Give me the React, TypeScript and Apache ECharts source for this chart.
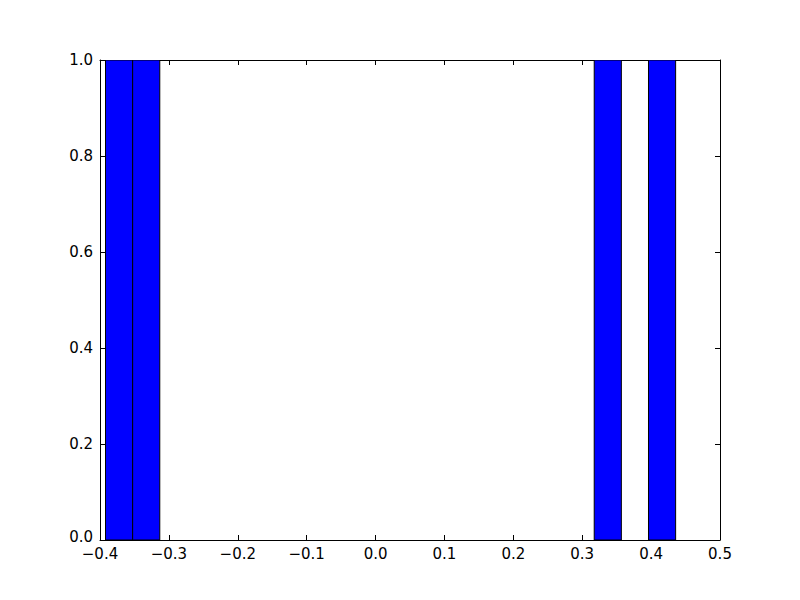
import React, { useEffect, useRef } from "react";
import * as echarts from "echarts";

// Histogram bins (data units) and counts
const binStarts = [-0.3920, -0.3526, 0.3174, 0.3962];
const binEnds = [-0.3526, -0.3132, 0.3568, 0.4356];
const counts = [1, 1, 1, 1];

const xTicks = { min: -0.4, max: 0.5, interval: 0.1 };
const yTicks = { min: 0, max: 1, interval: 0.2 };

const fmt = (v: number) => v.toFixed(1).replace("-", "\u2212");

export default function App() {
  const ref = useRef<HTMLDivElement>(null);
  useEffect(() => {
    if (!ref.current) return;
    const chart = echarts.init(ref.current, null, { renderer: "svg" });
    const data = binStarts.map((s, i) => [s, binEnds[i], counts[i]]);
    const font = { fontFamily: "DejaVu Sans", fontSize: 15, lineHeight: 12, color: "#000" };
    const tick = { show: true, inside: true, length: 5, lineStyle: { color: "#000", width: 1 } };
    const line = { show: true, onZero: false, lineStyle: { color: "#000", width: 1 } };
    chart.setOption({
      animation: false,
      backgroundColor: "#fff",
      grid: { left: 100, right: 80, top: 60, bottom: 60, containLabel: false },
      xAxis: [
        {
          type: "value", ...xTicks, position: "bottom",
          axisLine: line, axisTick: tick,
          axisLabel: { ...font, margin: 8, formatter: fmt },
          splitLine: { show: false },
        },
        {
          type: "value", ...xTicks, position: "top",
          axisLine: line, axisTick: tick,
          axisLabel: { show: false },
          splitLine: { show: false },
        },
      ],
      yAxis: [
        {
          type: "value", ...yTicks, position: "left",
          axisLine: line, axisTick: tick,
          axisLabel: {
            ...font, margin: 7,
            formatter: (v: number) => (v === yTicks.min ? `{low|${fmt(v)}}` : fmt(v)),
            rich: { low: { fontFamily: "DejaVu Sans", fontSize: 15, lineHeight: 12, color: "#000", padding: [0, 0, 6, 0] } },
          },
          splitLine: { show: false },
        },
        {
          type: "value", ...yTicks, position: "right",
          axisLine: line, axisTick: tick,
          axisLabel: { show: false },
          splitLine: { show: false },
        },
      ],
      series: [
        {
          type: "custom",
          xAxisIndex: 0,
          yAxisIndex: 0,
          data,
          clip: true,
          renderItem: (params: any, api: any) => {
            const p0 = api.coord([api.value(0), 0]);
            const p1 = api.coord([api.value(1), api.value(2)]);
            return {
              type: "rect",
              shape: { x: p0[0], y: p1[1], width: p1[0] - p0[0], height: p0[1] - p1[1] },
              style: { fill: "#0000ff", stroke: "#000", lineWidth: 1 },
            };
          },
        },
      ],
    });
    return () => chart.dispose();
  }, []);
  return <div ref={ref} style={{ width: 800, height: 600, position: "absolute", left: 0, top: 0 }} />;
}
